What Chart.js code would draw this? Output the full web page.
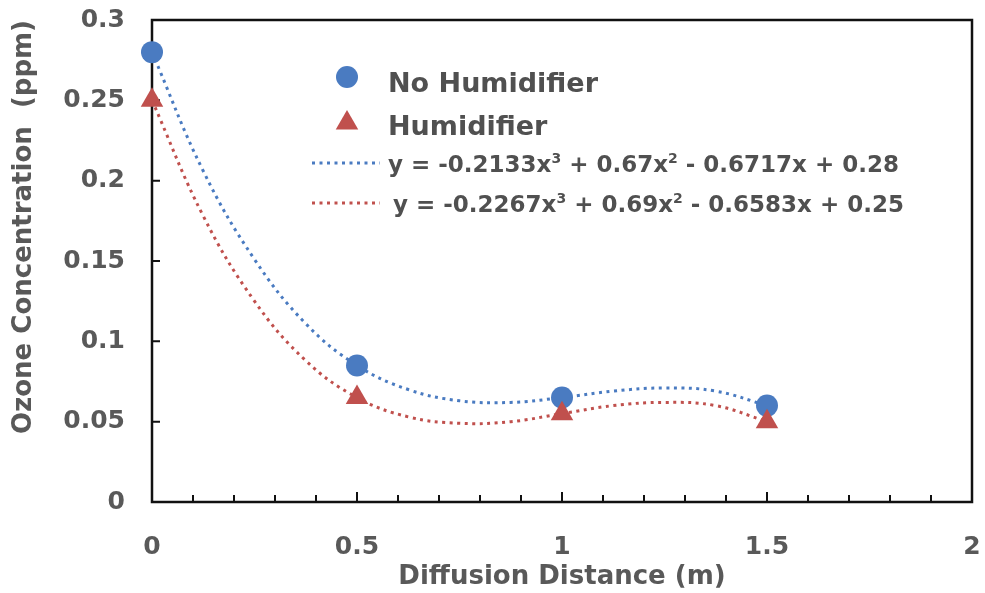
<!DOCTYPE html>
<html>
<head>
<meta charset="utf-8">
<script src="https://cdn.jsdelivr.net/npm/chart.js@4.4.1/dist/chart.umd.min.js"></script>
<style>
  html, body { margin: 0; padding: 0; background: #fff; }
  #wrap { width: 985px; height: 593px; }
</style>
</head>
<body>
<div id="wrap"><canvas id="chart" width="985" height="593"></canvas></div>
<script>
const distance = [0, 0.5, 1, 1.5];
const noHumidifier = [0.28, 0.085, 0.065, 0.06];
const humidifier = [0.25, 0.065, 0.055, 0.05];

// dotted trendlines, every 0.125 m
const trendDistance = [0, 0.125, 0.25, 0.375, 0.5, 0.625, 0.75, 0.875, 1, 1.125, 1.25, 1.375, 1.5];
const trendNoHumidifier = [0.28, 0.206, 0.151, 0.111, 0.085, 0.070, 0.063, 0.062, 0.065, 0.069, 0.071, 0.069, 0.060];
const trendHumidifier = [0.25, 0.178, 0.125, 0.088, 0.065, 0.053, 0.049, 0.050, 0.055, 0.060, 0.062, 0.060, 0.050];

const seriesNames = ["No Humidifier", "Humidifier"];
const equations = [
  ["y = -0.2133x", "3", " + 0.67x", "2", " - 0.6717x + 0.28"],
  ["y = -0.2267x", "3", " + 0.69x", "2", " - 0.6583x + 0.25"]
];
const xTitle = "Diffusion Distance (m)";
const yTitle = "Ozone Concentration  (ppm)";

const BLUE = "#4a7bc1";
const RED = "#c0504d";
const TEXT = "#595959";
const FONT = "'DejaVu Sans', sans-serif";

const pts = (xs, ys) => xs.map((x, i) => ({ x, y: ys[i] }));
const fmt = (v) => String(+v.toFixed(2));

/* frame + inward tick marks */
const framePlugin = {
  id: "frame",
  beforeDatasetsDraw(chart) {
    const { ctx, chartArea: a, scales } = chart;
    ctx.save();
    ctx.strokeStyle = "#111";
    ctx.lineWidth = 2.5;
    ctx.strokeRect(a.left, a.top, a.right - a.left, a.bottom - a.top);

    ctx.lineWidth = 2;
    ctx.beginPath();
    for (let i = 1; i < 20; i++) {
      const px = scales.x.getPixelForValue(i / 10);
      const len = i % 5 === 0 ? 10 : 7;
      ctx.moveTo(px, a.bottom);
      ctx.lineTo(px, a.bottom - len);
    }
    for (let i = 1; i < 6; i++) {
      const py = scales.y.getPixelForValue(i * 0.05);
      ctx.moveTo(a.left, py);
      ctx.lineTo(a.left + 8, py);
    }
    ctx.stroke();
    ctx.restore();
  }
};

/* legend inside the plot, with trendline equations */
const legendPlugin = {
  id: "innerLegend",
  afterDraw(chart) {
    const ctx = chart.ctx;
    ctx.save();

    // markers
    ctx.fillStyle = BLUE;
    ctx.beginPath();
    ctx.arc(347, 77, 11, 0, Math.PI * 2);
    ctx.fill();

    const r = 13, cx = 347, cy = 123;
    ctx.fillStyle = RED;
    ctx.beginPath();
    for (let k = 0; k < 3; k++) {
      const ang = k * 2 * Math.PI / 3;
      const px = cx + Math.sin(ang) * r, py = cy - Math.cos(ang) * r;
      k === 0 ? ctx.moveTo(px, py) : ctx.lineTo(px, py);
    }
    ctx.closePath();
    ctx.fill();

    ctx.fillStyle = "#505050";
    ctx.textBaseline = "alphabetic";
    ctx.font = "bold 27px " + FONT;
    ctx.fillText(seriesNames[0], 388, 92);
    ctx.fillText(seriesNames[1], 388, 135);

    // dotted line samples
    ctx.lineWidth = 3;
    ctx.setLineDash([3, 4.5]);
    [[BLUE, 163], [RED, 203]].forEach(([c, y]) => {
      ctx.strokeStyle = c;
      ctx.beginPath();
      ctx.moveTo(312, y);
      ctx.lineTo(380, y);
      ctx.stroke();
    });
    ctx.setLineDash([]);

    // equations with superscripts
    [[388, 172], [393, 212]].forEach(([x0, base], idx) => {
      let x = x0;
      equations[idx].forEach((part, j) => {
        const sup = j % 2 === 1;
        ctx.font = (sup ? "bold 14px " : "bold 23px ") + FONT;
        ctx.fillText(part, x, sup ? base - 9 : base);
        x += ctx.measureText(part).width;
      });
    });

    ctx.restore();
  }
};

const tickFont = { family: FONT, size: 25, weight: "bold" };
const titleFont = { family: FONT, size: 26, weight: "bold" };

// keep tick-label overhang from shrinking the plot area
const noPad = (s) => {
  s.paddingLeft = 0;
  s.paddingRight = 0;
  s.paddingTop = 0;
  s.paddingBottom = 0;
};

new Chart(document.getElementById("chart"), {
  type: "scatter",
  data: {
    datasets: [
      {
        label: "No Humidifier trend",
        data: pts(trendDistance, trendNoHumidifier),
        showLine: true,
        borderColor: BLUE,
        borderWidth: 3,
        borderDash: [3, 4.5],
        pointRadius: 0,
        tension: 0.4,
        clip: false,
        order: 3
      },
      {
        label: "Humidifier trend",
        data: pts(trendDistance, trendHumidifier),
        showLine: true,
        borderColor: RED,
        borderWidth: 3,
        borderDash: [3, 4.5],
        pointRadius: 0,
        tension: 0.4,
        clip: false,
        order: 3
      },
      {
        label: seriesNames[0],
        data: pts(distance, noHumidifier),
        pointStyle: "circle",
        pointRadius: 11,
        pointBackgroundColor: BLUE,
        pointBorderWidth: 0,
        clip: false,
        order: 2
      },
      {
        label: seriesNames[1],
        data: pts(distance, humidifier),
        pointStyle: "triangle",
        pointRadius: 13,
        pointBackgroundColor: RED,
        pointBorderWidth: 0,
        clip: false,
        order: 1
      }
    ]
  },
  options: {
    responsive: false,
    animation: false,
    devicePixelRatio: 1,
    layout: { padding: { top: 20, right: 5, left: 0, bottom: 0 } },
    plugins: {
      legend: { display: false },
      tooltip: { enabled: false }
    },
    scales: {
      x: {
        type: "linear",
        min: 0,
        max: 2,
        grid: { display: false },
        border: { display: false },
        ticks: { stepSize: 0.5, color: TEXT, font: tickFont, padding: 22, callback: fmt },
        title: {
          display: true,
          text: xTitle,
          color: TEXT,
          font: titleFont,
          padding: { top: 0, bottom: 0 }
        },
        afterFit: (s) => { s.height = 91; noPad(s); }
      },
      y: {
        min: 0,
        max: 0.3,
        grid: { display: false },
        border: { display: false },
        ticks: {
          stepSize: 0.05,
          color: TEXT,
          font: tickFont,
          padding: 19,
          callback: fmt
        },
        title: {
          display: true,
          text: yTitle,
          align: "end",
          color: TEXT,
          font: titleFont,
          padding: { top: 9, bottom: 0 }
        },
        afterFit: (s) => { s.width = 152; noPad(s); }
      }
    }
  },
  plugins: [framePlugin, legendPlugin]
});
</script>
</body>
</html>
